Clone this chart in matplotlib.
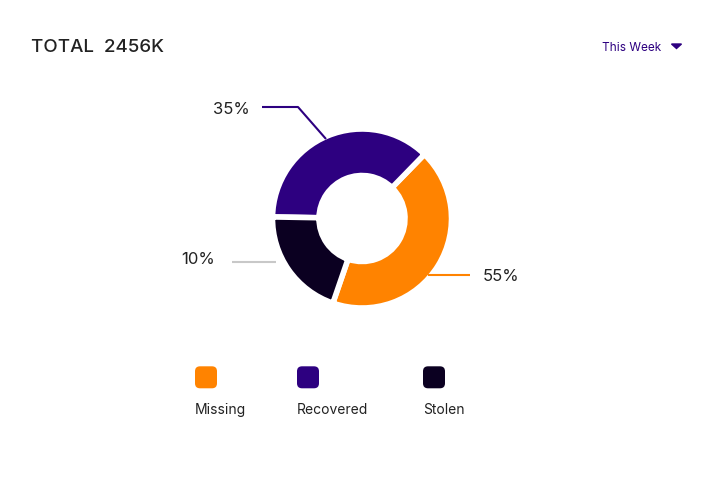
import matplotlib.pyplot as plt
from matplotlib.patches import FancyBboxPatch, Polygon

plt.rcParams['font.family'] = ['Inter', 'DejaVu Sans']

W, H = 718, 495

# data
categories = ['Missing', 'Recovered', 'Stolen']
values = [43, 37, 20]              # slice sizes as drawn
shown = ['55%', '35%', '10%']      # labels printed on the chart
colors = ['#FF8300', '#2D0080', '#0B0021']
total_label = 'TOTAL  2456K'
period = 'This Week'

def Y(y):
    # pixel row (top = 0) -> data y
    return H - y

fig = plt.figure(figsize=(W / 100, H / 100), dpi=100)
ax = fig.add_axes([0, 0, 1, 1])

cx, cy, r_out, r_in = 362, 218.5, 89.5, 43
ax.pie(values, colors=colors, startangle=-109, counterclock=True,
       center=(cx, Y(cy)), radius=r_out,
       wedgeprops=dict(width=r_out - r_in, edgecolor='white', linewidth=4))

ax.set_xlim(0, W)
ax.set_ylim(0, H)
ax.set_aspect('auto')
ax.axis('off')

txt = '#222222'
ax.text(31, Y(52.3), total_label, fontsize=13.5, fontweight='medium', color=txt,
        va='baseline', ha='left')
ax.text(602, Y(50.7), period, fontsize=8.5, color='#2D0080', va='baseline', ha='left')
ax.add_patch(Polygon([(671.5, Y(44)), (681.5, Y(44)), (676.5, Y(48.5))],
                     closed=True, color='#2D0080'))

# leader lines and percentage labels
leaders = {
    'Missing': ([428, 470], [275, 275], '#FF8300', (483, 281.3)),
    'Recovered': ([326, 298, 262], [139, 107, 107], '#2D0080', (213, 114)),
    'Stolen': ([276, 232], [262, 262], '#C8C8C8', (181, 264.3)),
}
for cat, lab in zip(categories, shown):
    xs, ys, c, (tx, ty) = leaders[cat]
    ax.plot(xs, [Y(v) for v in ys], color=c, lw=1.5, solid_capstyle='butt')
    ax.text(tx, Y(ty), lab, fontsize=12, color=txt, va='baseline', ha='left')

# legend
leg_x = [195, 297, 423]
for x0, cat, c in zip(leg_x, categories, colors):
    ax.add_patch(FancyBboxPatch((x0 + 5, Y(388.3) + 5), 12, 12,
                                boxstyle='round,pad=5', fc=c, ec='none'))
    ax.text(x0, Y(414.3), cat, fontsize=10, color=txt, va='baseline', ha='left')

fig.savefig('out.png', dpi=100)
